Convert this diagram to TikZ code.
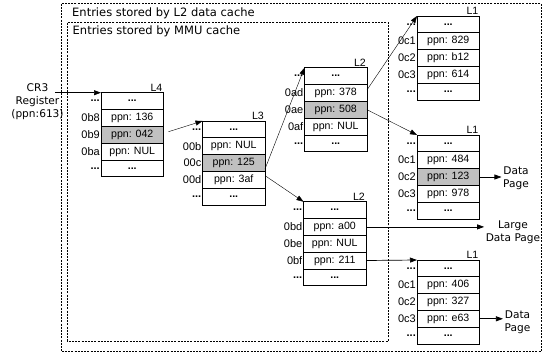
\documentclass[tikz,border=0pt]{standalone}
\usepackage{fontspec}
\setmainfont{DejaVu Sans}
\newfontfamily\cellfont{Liberation Sans}
\usetikzlibrary{arrows.meta,calc}
\definecolor{cellgray}{RGB}{192,192,192}
\newcommand{\dd}{\textbf{...}}
\tikzset{
  cell/.style={draw, line width=0.7pt, minimum width=62.5pt, minimum height=16.8pt,
    inner sep=0pt, outer sep=0pt, font=\cellfont\fontsize{10.6}{12}\selectfont},
  rowlab/.style={inner sep=1pt, font=\cellfont\fontsize{11}{12}\selectfont},
  lvllab/.style={inner sep=1pt, font=\cellfont\fontsize{10.6}{12}\selectfont},
  dashbox/.style={line width=0.8pt, dash pattern=on 2pt off 1.2pt},
  harrow/.style={line width=0.7pt, -{Triangle[length=7pt,width=5pt]}},
  darrow/.style={line width=0.4pt, -{Triangle[length=7pt,width=5pt]}},
  lbl/.style={inner sep=1.5pt, align=center, font=\fontsize{10.6}{13}\selectfont},
  title/.style={inner sep=0pt, anchor=west, font=\fontsize{11.5}{13}\selectfont}
}
\newcommand{\mktable}[4]{%
  \foreach \lab/\txt/\fil [count=\i] in {#4} {
    \node[cell, fill=\fil, anchor=north west] (#1-\i) at ($(#2)+(0,{(\i-1)*16.8})$) {\txt};
    \node[rowlab, anchor=east] at (#1-\i.west) {\lab};
  }
  \node[lvllab, anchor=south east] at (#1-1.north east) {#3};
}
\begin{document}
\begin{tikzpicture}[x=1pt,y=-1pt]
\useasboundingbox (0,0) rectangle (544,354);
% dashed regions
\draw[dashbox] (61,3.5) rectangle (541.5,351.5);
\draw[dashbox] (67.3,22.5) rectangle (388.3,341);
\node[title] (t1) at (72,13.3) {Entries stored by L2 data cache};
\node[title] (t2) at (72.5,31.5) {Entries stored by MMU cache};
% tables
\mktable{L4}{101,92.7}{L4}{\dd/\dd/white, 0b8/ppn: 136/white, 0b9/ppn: 042/cellgray, 0ba/ppn: NUL/white, \dd/\dd/white}
\mktable{L3}{202.5,121}{L3}{\dd/\dd/white, 00b/ppn: NUL/white, 00c/ppn: 125/cellgray, 00d/ppn: 3af/white, \dd/\dd/white}
\mktable{L2a}{304.5,67.7}{L2}{\dd/\dd/white, 0ad/ppn: 378/white, 0ae/ppn: 508/cellgray, 0af/ppn: NUL/white, \dd/\dd/white}
\mktable{L1a}{417,16}{L1}{\dd/\dd/white, 0c1/ppn: 829/white, 0c2/ppn: b12/white, 0c3/ppn: 614/white, \dd/\dd/white}
\mktable{L1b}{417,135}{L1}{\dd/\dd/white, 0c1/ppn: 484/white, 0c2/ppn: 123/cellgray, 0c3/ppn: 978/white, \dd/\dd/white}
\mktable{L2b}{303.5,201.7}{L2}{\dd/\dd/white, 0bd/ppn: a00/white, 0be/ppn: NUL/white, 0bf/ppn: 211/white, \dd/\dd/white}
\mktable{L1c}{417,260}{L1}{\dd/\dd/white, 0c1/ppn: 406/white, 0c2/ppn: 327/white, 0c3/ppn: e63/white, \dd/\dd/white}
% labels
\node[lbl] (cr3) at (37.5,101.5) {CR3\\Register\\(ppn:613)};
\node[lbl] (dp1) at (516,178) {Data\\Page};
\node[lbl] (ldp) at (513,232.5) {Large\\Data Page};
\node[lbl] (dp2) at (517.5,322) {Data\\Page};
% connectors
\coordinate (cr3s) at (55,92.7);
\draw[harrow] (cr3s) -- (L4-1.north west);
\draw[darrow] ($(L4-3.east)+(5,-3)$) -- (L3-1.north west);
\draw[darrow] ($(L3-3.east)+(0,6)$) -- (L2a-1.north west);
\draw[darrow] ($(L3-4.east)+(1,-3.5)$) -- (L2b-1.north west);
\draw[darrow] ($(L2a-2.east)+(0,-3)$) -- (L1a-1.north west);
\draw[darrow] (L2a-3.east) -- (L1b-1.north west);
\draw[harrow] (L1b-3.east) -- (L1b-3.east -| dp1.west);
\draw[harrow] (L2b-2.east) -- (L2b-2.east -| ldp.west);
\draw[harrow] (L2b-4.east) -- (L1c-1.north west);
\draw[harrow] (L1c-4.east) -- (L1c-4.east -| dp2.west);
\end{tikzpicture}
\end{document}
